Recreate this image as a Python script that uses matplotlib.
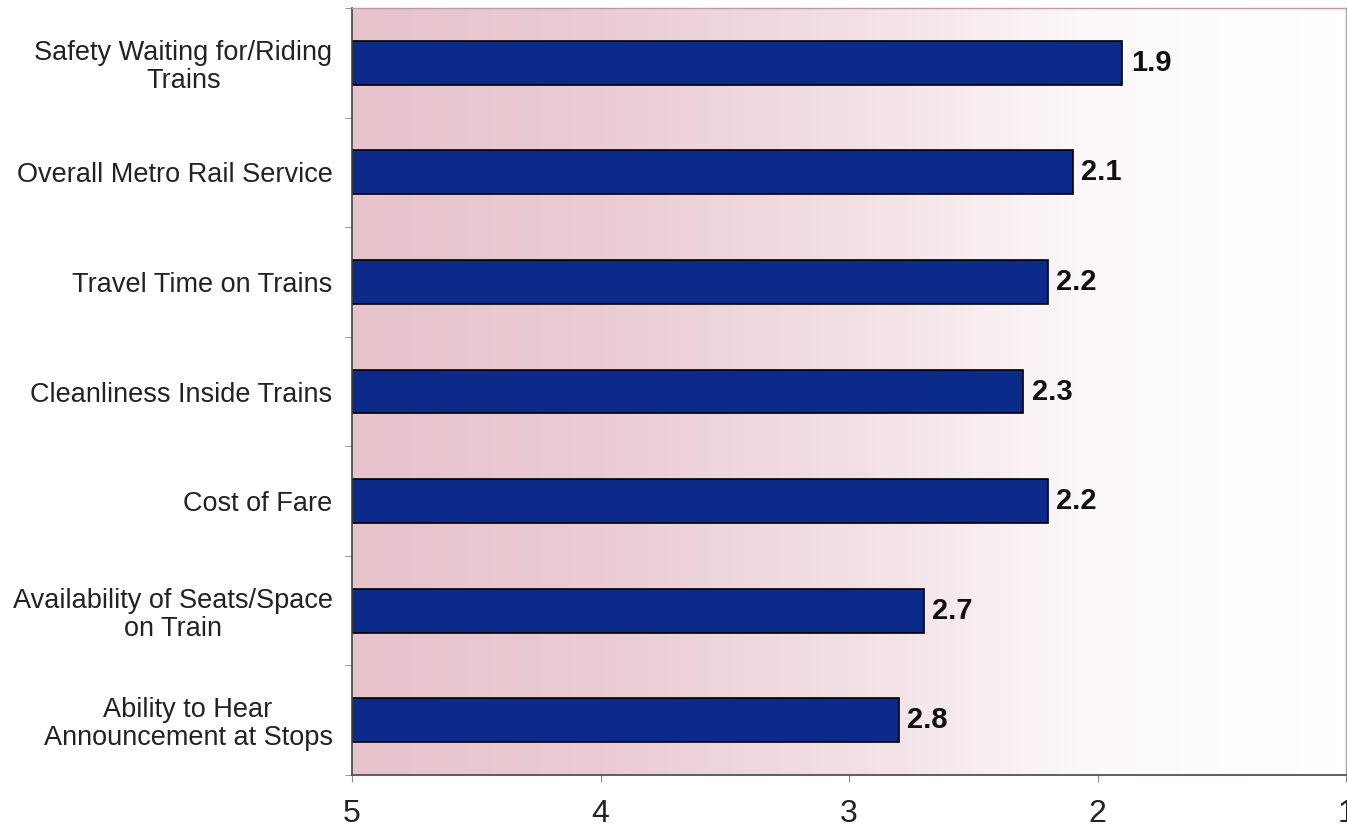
import numpy as np
import matplotlib
matplotlib.use("Agg")
import matplotlib.pyplot as plt
from matplotlib.colors import LinearSegmentedColormap

categories = [
    "Safety Waiting for/Riding\nTrains",
    "Overall Metro Rail Service",
    "Travel Time on Trains",
    "Cleanliness Inside Trains",
    "Cost of Fare",
    "Availability of Seats/Space\non Train",
    "Ability to Hear\nAnnouncement at Stops",
]
values = [1.9, 2.1, 2.2, 2.3, 2.2, 2.7, 2.8]
value_labels = ["1.9", "2.1", "2.2", "2.3", "2.2", "2.7", "2.8"]
xticks = [5, 4, 3, 2, 1]

plt.rcParams['font.family'] = ['Liberation Sans', 'DejaVu Sans']

W, H = 1347, 832
fig = plt.figure(figsize=(W / 100, H / 100), dpi=100)
ax = fig.add_axes([352 / W, (H - 775) / H, (1346 - 352) / W, (775 - 8) / H])

n = len(categories)
ax.set_xlim(5, 1)
ax.set_ylim(n - 0.5, -0.5)

# gradient background
cmap = LinearSegmentedColormap.from_list(
    "bg", [(0.0, "#e7c3cc"), (0.25, "#ebccd4"), (0.5, "#f2dfe4"), (0.75, "#fdf9fa"), (1.0, "#ffffff")])
grad = np.linspace(0, 1, 256).reshape(1, -1)
ax.imshow(grad, aspect="auto", cmap=cmap, extent=[5, 1, n - 0.5, -0.5],
          zorder=0, interpolation="bilinear")

y = np.arange(n)
# bars run from 5 toward the value (axis reversed)
ax.barh(y, [5 - v for v in values], left=values, height=0.4,
        color="#0b2a8a", edgecolor="#000000", linewidth=1.2, zorder=2)
for yi, v, lab in zip(y, values, value_labels):
    ax.text(v - 0.035, yi, lab, ha="left", va="center", fontsize=21,
            fontweight="bold", color="#111111", zorder=3)

ax.set_yticks(y)
ax.set_yticklabels(categories, fontsize=19.5, color="#222222", linespacing=1.1,
                   multialignment="center")
ax.tick_params(axis="y", length=0, pad=14)
ax.set_yticks(np.arange(n + 1) - 0.5, minor=True)
ax.tick_params(axis="y", which="minor", length=5, color="#888888")

ax.set_xticks(xticks)
ax.set_xticklabels([str(t) for t in xticks], fontsize=23, color="#222222")
ax.tick_params(axis="x", length=5, color="#888888", pad=12)

for side in ["top", "right"]:
    ax.spines[side].set_color("#c09aa2")
    ax.spines[side].set_linewidth(1.0)
for side in ["left", "bottom"]:
    ax.spines[side].set_color("#444444")
    ax.spines[side].set_linewidth(1.2)

fig.savefig("out.png", dpi=100)
